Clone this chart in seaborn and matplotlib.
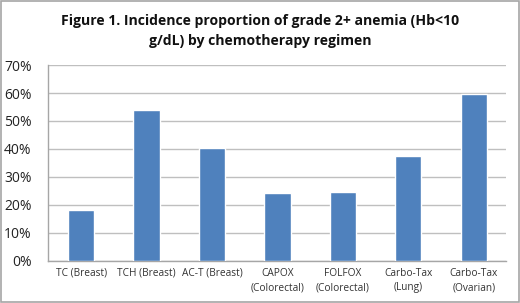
import matplotlib
matplotlib.use("Agg")
import matplotlib.pyplot as plt
import seaborn as sns
import pandas as pd
from matplotlib.ticker import PercentFormatter

categories = ["TC (Breast)", "TCH (Breast)", "AC-T (Breast)", "CAPOX\n(Colorectal)",
              "FOLFOX\n(Colorectal)", "Carbo-Tax\n(Lung)", "Carbo-Tax\n(Ovarian)"]
values = [0.181, 0.54, 0.405, 0.243, 0.247, 0.375, 0.597]
yticks = [0, 0.1, 0.2, 0.3, 0.4, 0.5, 0.6, 0.7]
title = "Figure 1. Incidence proportion of grade 2+ anemia (Hb<10\ng/dL) by chemotherapy regimen"

sns.set_theme(style="white")
plt.rcParams['font.family'] = ['Open Sans', 'DejaVu Sans']

df = pd.DataFrame({"regimen": categories, "value": values})

fig = plt.figure(figsize=(5.2, 3.03), dpi=100)
ax = fig.add_axes([0.093, 0.14, 0.881, 0.645])
sns.barplot(data=df, x="regimen", y="value", color="#4f81bd", width=0.4,
            saturation=1, ax=ax, zorder=3)
ax.set_ylim(0, 0.7)
ax.set_yticks(yticks)
ax.yaxis.set_major_formatter(PercentFormatter(1.0, decimals=0))
ax.grid(axis="y", color="#bfbfbf", linewidth=1, zorder=0)
ax.set_axisbelow(True)
ax.set_xlabel("")
ax.set_ylabel("")
for s in ["top", "right"]:
    ax.spines[s].set_visible(False)
for s in ["left", "bottom"]:
    ax.spines[s].set_color("#a6a6a6")
    ax.spines[s].set_linewidth(1)
ax.tick_params(axis="y", labelsize=10, pad=12, length=0, colors="#222222")
ax.tick_params(axis="x", labelsize=7.3, pad=5, length=0, colors="#333333")
for lbl in ax.get_xticklabels():
    lbl.set_linespacing(1.45)

fig.text(0.5, 0.898, title, ha="center", va="center", fontsize=10.1,
         fontweight="bold", linespacing=1.55, color="#111111")

border = plt.Rectangle((0.002, 0.003), 0.996, 0.994, transform=fig.transFigure,
                       fill=False, edgecolor="#a6a6a6", linewidth=1.2)
fig.patches.append(border)

fig.savefig("out.png", dpi=100)
